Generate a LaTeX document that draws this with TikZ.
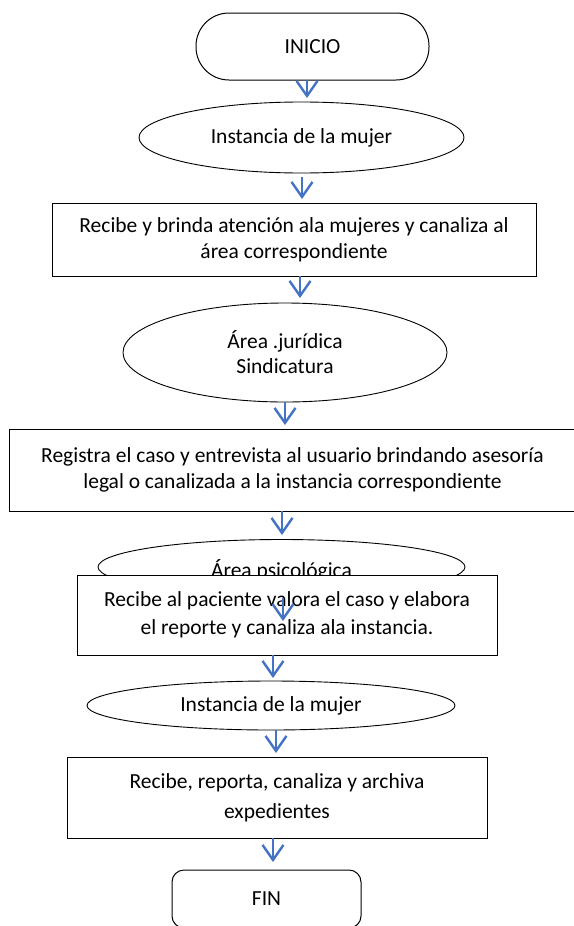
\documentclass[tikz,border=0pt]{standalone}
\usepackage{fontspec}
\setmainfont{Carlito}
\usetikzlibrary{shapes.geometric,arrows.meta}
\definecolor{arrblue}{HTML}{4472C4}
\begin{document}
\begin{tikzpicture}[x=1pt,y=-1pt,
  every node/.style={font=\fontsize{21.5}{26.5}\selectfont, align=center, inner sep=0pt},
  term/.style={draw, line width=1pt, fill=white},
  proc/.style={draw, line width=1pt, fill=white, rectangle},
  ell/.style={draw, line width=0.9pt, fill=white, ellipse},
  arr/.style={draw=arrblue, line width=2.4pt, -{Straight Barb[length=15pt,width=21pt]}}
]
\useasboundingbox (0,0) rectangle (573,926);

% INICIO
\node[term, rounded corners=33pt, minimum width=233pt, minimum height=67pt] (inicio) at (312.5,46.5) {INICIO};
% Ellipse 1
\node[ell, minimum width=325pt, minimum height=71pt] (ell1) at (301.5,137.5) {Instancia de la mujer};
% Rect 1
\node[proc, minimum width=484pt, minimum height=73pt] (rect1) at (294,240) {Recibe y brinda atención ala mujeres y canaliza al\\área correspondiente};
% Ellipse 2
\node[ell, minimum width=324pt, minimum height=99pt, font=\fontsize{21.5}{25}\selectfont] (ell2) at (285,352.5) {Área .jurídica\\Sindicatura};
% Rect 2
\node[proc, minimum width=567pt, minimum height=82pt] (rect2) at (292.5,470) {Registra el caso y entrevista al usuario brindando asesoría\\legal o canalizada a la instancia correspondiente};
% Ellipse 3
\node[ell, minimum width=367pt, minimum height=55pt] (ell3) at (281.5,567) {};
\node (ell3t) at (281.5,570) {Área psicológica};
% Rect 3
\node[proc, minimum width=420pt, minimum height=80pt, font=\fontsize{21.5}{28}\selectfont] (rect3) at (287,615) {Recibe al paciente valora el caso y elabora\\el reporte y canaliza ala instancia.};
% Ellipse 4
\node[ell, minimum width=368pt, minimum height=49pt] (ell4) at (271,705.5) {Instancia de la mujer};
% Rect 4
\node[proc, minimum width=420pt, minimum height=81pt, font=\fontsize{21.5}{30}\selectfont] (rect4) at (277,797.5) {Recibe, reporta, canaliza y archiva\\expedientes};
% FIN
\node[term, rounded corners=12pt, minimum width=189pt, minimum height=58pt] (fin) at (266.5,899) {FIN};

% arrow end points
\coordinate (a1s) at (307,80);  \coordinate (a1e) at (307,98);
\coordinate (a2s) at (302,177); \coordinate (a2e) at (302,199);
\coordinate (a3s) at (300,276); \coordinate (a3e) at (300,298);
\coordinate (a4s) at (285,402); \coordinate (a4e) at (285,425);
\coordinate (a5s) at (282,511); \coordinate (a5e) at (282,535);
\coordinate (a6s) at (283,598); \coordinate (a6e) at (283,621);
\coordinate (a7s) at (273,655); \coordinate (a7e) at (273,678);
\coordinate (a8s) at (276,730); \coordinate (a8e) at (276,753);
\coordinate (a9s) at (273,838); \coordinate (a9e) at (273,862);

\draw[arr] (a1s) -- (a1e);
\draw[arr] (a2s) -- (a2e);
\draw[arr] (a3s) -- (a3e);
\draw[arr] (a4s) -- (a4e);
\draw[arr] (a5s) -- (a5e);
\draw[arr] (a6s) -- (a6e);
\draw[arr] (a7s) -- (a7e);
\draw[arr] (a8s) -- (a8e);
\draw[arr] (a9s) -- (a9e);
\end{tikzpicture}
\end{document}
